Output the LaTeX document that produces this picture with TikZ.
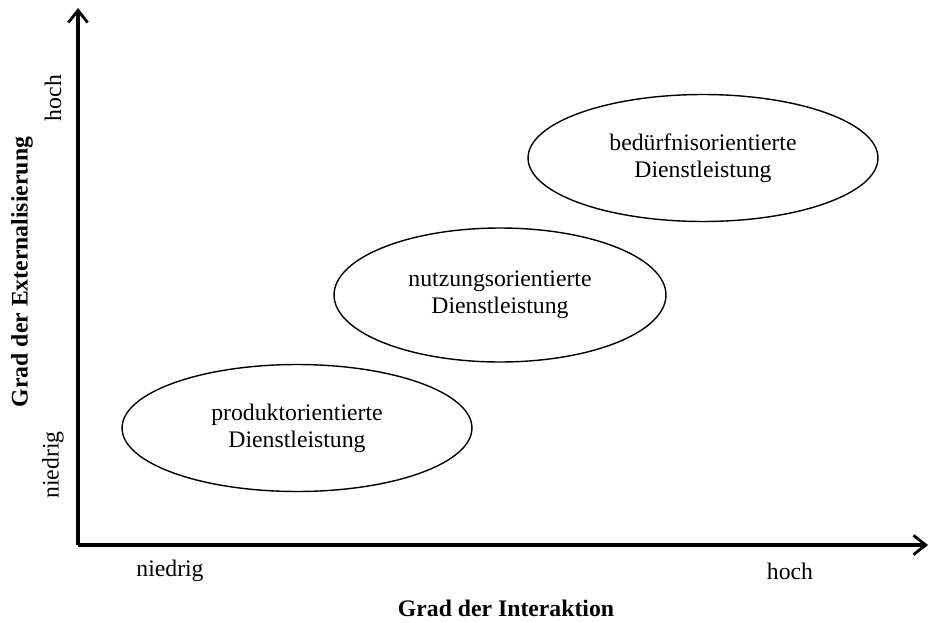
\documentclass[tikz,border=0pt]{standalone}
\usepackage{fontspec}
\setmainfont{Liberation Serif}
\usepackage{tikz}
\usetikzlibrary{shapes.geometric, arrows.meta, positioning}
\tikzstyle{field} = [ellipse, draw=black, thick, align=center,
    font=\fontsize{13.5}{15.5}\selectfont]
\tikzstyle{axis} = [line width=1.8pt, -{Straight Barb[length=7pt, width=11pt, line width=1.6pt]}]
\tikzstyle{tick} = [font=\fontsize{13.5}{15.5}\selectfont]
\tikzstyle{axistitle} = [font=\fontsize{13.5}{15.5}\selectfont\bfseries]

\begin{document}
\begin{tikzpicture}[x=0.02cm, y=-0.02cm]
  \useasboundingbox (0,0) rectangle (929,622);
  % Axes
  \coordinate (o) at (78,545);
  \coordinate (xend) at (928,545);
  \coordinate (yend) at (78,8);
  \draw[axis](o.center)--(xend);
  \draw[axis](o.center)--(yend);

  % Fields
  \node[field, minimum width=7cm, minimum height=2.54cm] (prod) at (297,428)
    {produktorientierte\\Dienstleistung};
  \node[field, minimum width=6.64cm, minimum height=2.68cm] (nutz) at (500,295)
    {nutzungsorientierte\\Dienstleistung};
  \node[field, minimum width=7cm, minimum height=2.54cm] (bed) at (703,158)
    {bedürfnisorientierte\\Dienstleistung};

  % Axis labels
  \node[tick] (xlow) at (170,571) {niedrig};
  \node[tick] (xhigh) at (790,571) {hoch};
  \node[axistitle] (xtitle) at (506,608) {Grad der Interaktion};
  \node[tick, rotate=90] (ylow) at (53,465) {niedrig};
  \node[tick, rotate=90] (yhigh) at (53,98) {hoch};
  \node[axistitle, rotate=90] (ytitle) at (22,272) {Grad der Externalisierung};
\end{tikzpicture}
\end{document}
